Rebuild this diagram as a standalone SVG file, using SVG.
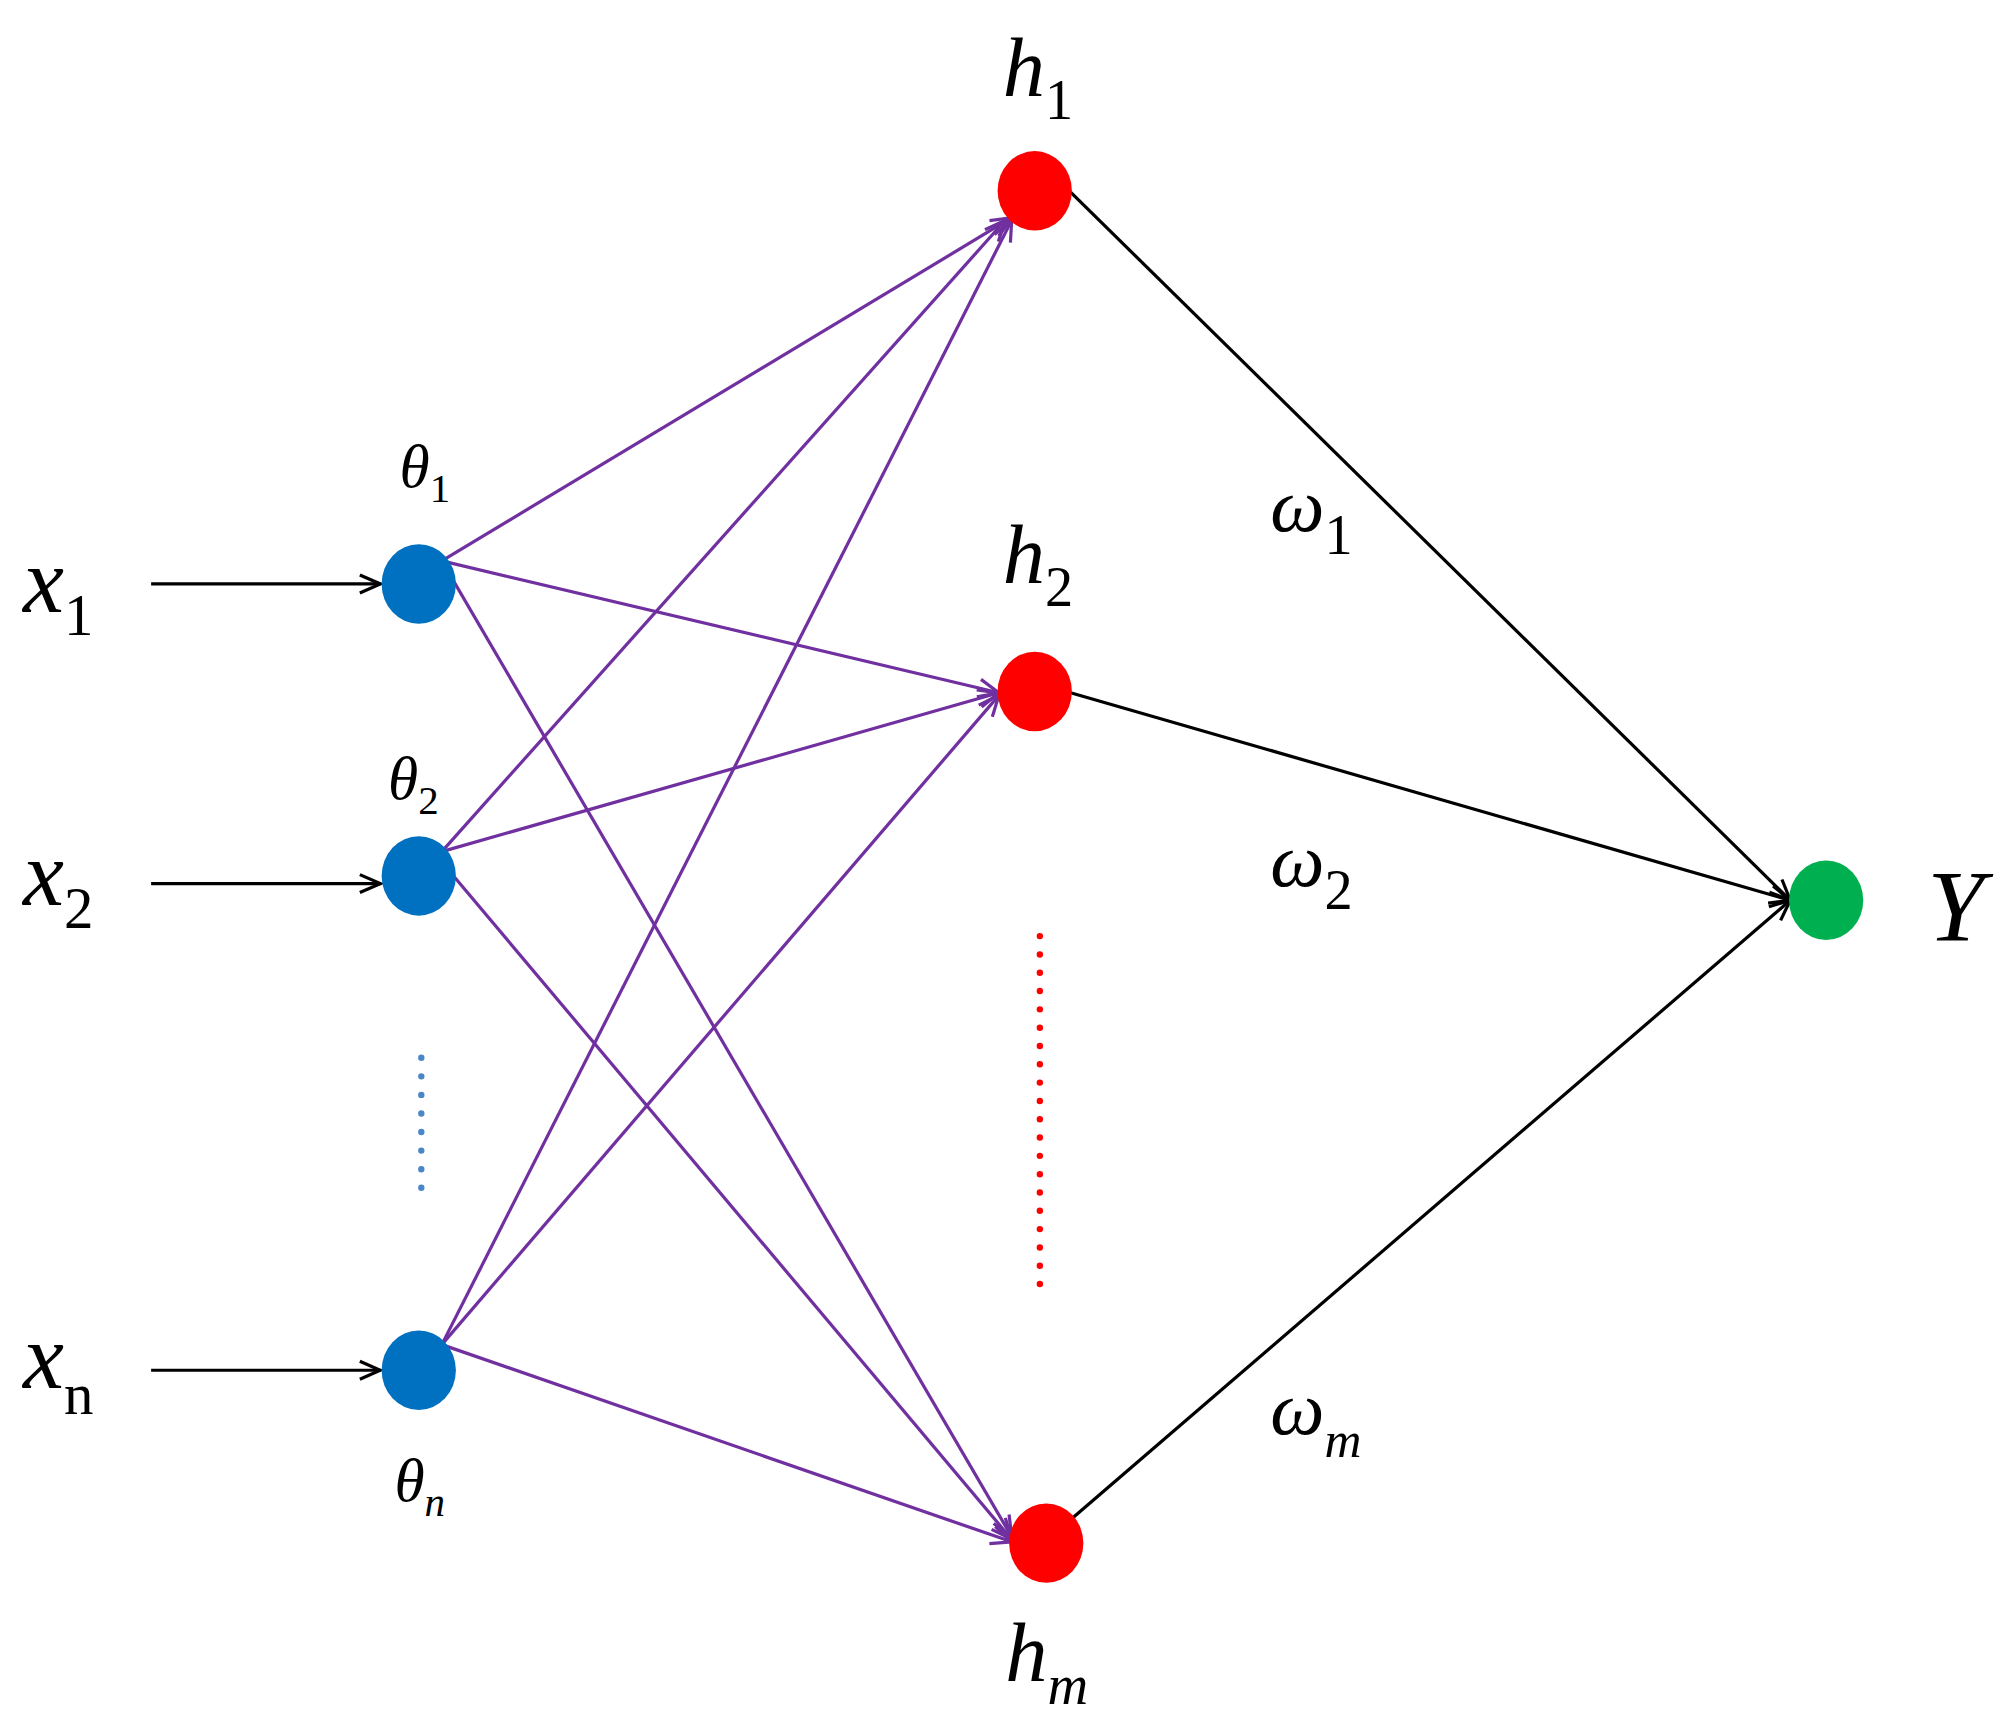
<svg xmlns="http://www.w3.org/2000/svg" width="2008" height="1731" viewBox="0 0 2008 1731">
<defs>
<marker id="ab" viewBox="0 0 20 20" refX="18" refY="10" markerWidth="20" markerHeight="20" markerUnits="userSpaceOnUse" orient="auto"><path d="M2,3 L18,10 L2,17" fill="none" stroke="#000" stroke-width="2.5"/></marker>
<marker id="ap" viewBox="0 0 20 20" refX="18" refY="10" markerWidth="20" markerHeight="20" markerUnits="userSpaceOnUse" orient="auto"><path d="M2,3 L18,10 L2,17" fill="none" stroke="#7030A0" stroke-width="2.5"/></marker>
</defs>
<style>
.b{stroke:#000;stroke-width:2.5;fill:none}
.p{stroke:#7030A0;stroke-width:2.5;fill:none;marker-end:url(#ap)}
.t{font-family:"Liberation Serif",serif;font-style:italic;fill:#000}
.s{font-family:"Liberation Serif",serif;font-style:normal}
</style>
<rect width="2008" height="1731" fill="#fff"/>
<g transform="scale(1.2806)">
<g id="connectors">
<line class="b" x1="118" y1="456" x2="297" y2="456" marker-end="url(#ab)"/>
<line class="b" x1="118" y1="690" x2="297" y2="690" marker-end="url(#ab)"/>
<line class="b" x1="118" y1="1070" x2="297" y2="1070" marker-end="url(#ab)"/>
<line class="p" x1="345" y1="438" x2="790" y2="170"/>
<line class="p" x1="345" y1="438" x2="780" y2="541"/>
<line class="p" x1="345" y1="438" x2="790" y2="1200"/>
<line class="p" x1="345" y1="665" x2="785" y2="172"/>
<line class="p" x1="345" y1="665" x2="780" y2="541"/>
<line class="p" x1="355" y1="685" x2="790" y2="1202"/>
<line class="p" x1="345" y1="1050" x2="790" y2="172"/>
<line class="p" x1="345" y1="1050" x2="780" y2="543"/>
<line class="p" x1="345" y1="1050" x2="790" y2="1204"/>
<line class="b" x1="836" y1="150" x2="1398" y2="703" marker-end="url(#ab)"/>
<line class="b" x1="836" y1="541" x2="1398" y2="703" marker-end="url(#ab)"/>
<line class="b" x1="838" y1="1185" x2="1398" y2="703" marker-end="url(#ab)"/>
<line x1="329" y1="826" x2="329" y2="930" stroke="#4A86C8" stroke-width="5" stroke-linecap="round" stroke-dasharray="0 14.5"/>
<line x1="812" y1="731" x2="812" y2="1016" stroke="#FF0000" stroke-width="5" stroke-linecap="round" stroke-dasharray="0 14.3"/>
</g>
<g id="x1"><ellipse cx="327" cy="456" rx="29" ry="31" fill="#0070C0"/></g>
<g id="x2"><ellipse cx="327" cy="684" rx="29" ry="31" fill="#0070C0"/></g>
<g id="xn"><ellipse cx="327" cy="1070" rx="29" ry="31" fill="#0070C0"/></g>
<g id="h1"><ellipse cx="808" cy="149" rx="29" ry="31" fill="#FF0000"/></g>
<g id="h2"><ellipse cx="808" cy="540" rx="29" ry="31" fill="#FF0000"/></g>
<g id="hm"><ellipse cx="817" cy="1205" rx="29" ry="31" fill="#FF0000"/></g>
<g id="Y"><ellipse cx="1426" cy="703" rx="29" ry="31" fill="#00B050"/></g>
<g id="labels">
<text class="t" x="18" y="478" font-size="72">x<tspan class="s" font-size="46" dy="18">1</tspan></text>
<text class="t" x="18" y="707" font-size="72">x<tspan class="s" font-size="46" dy="18">2</tspan></text>
<text class="t" x="18" y="1084" font-size="72">x<tspan class="s" font-size="46" dy="20">n</tspan><tspan font-style="italic"></tspan></text>
<text class="t" x="312" y="380" font-size="48">θ<tspan class="s" font-size="32" dy="12">1</tspan></text>
<text class="t" x="303" y="624" font-size="48">θ<tspan class="s" font-size="32" dy="12">2</tspan></text>
<text class="t" x="308" y="1172" font-size="48">θ<tspan font-size="32" dy="12">n</tspan></text>
<text class="t" x="783" y="75" font-size="66">h<tspan class="s" font-size="44" dy="18">1</tspan></text>
<text class="t" x="783" y="455" font-size="66">h<tspan class="s" font-size="44" dy="18">2</tspan></text>
<text class="t" x="785" y="1313" font-size="66">h<tspan font-size="44" dy="18">m</tspan></text>
<text class="t" x="992" y="415" font-size="60">ω<tspan class="s" font-size="44" dy="18">1</tspan></text>
<text class="t" x="992" y="692" font-size="60">ω<tspan class="s" font-size="44" dy="18">2</tspan></text>
<text class="t" x="992" y="1120" font-size="60">ω<tspan font-size="40" dy="18">m</tspan></text>
<text class="t" x="1505" y="735" font-size="80">Y</text>
</g>
</g>
</svg>
